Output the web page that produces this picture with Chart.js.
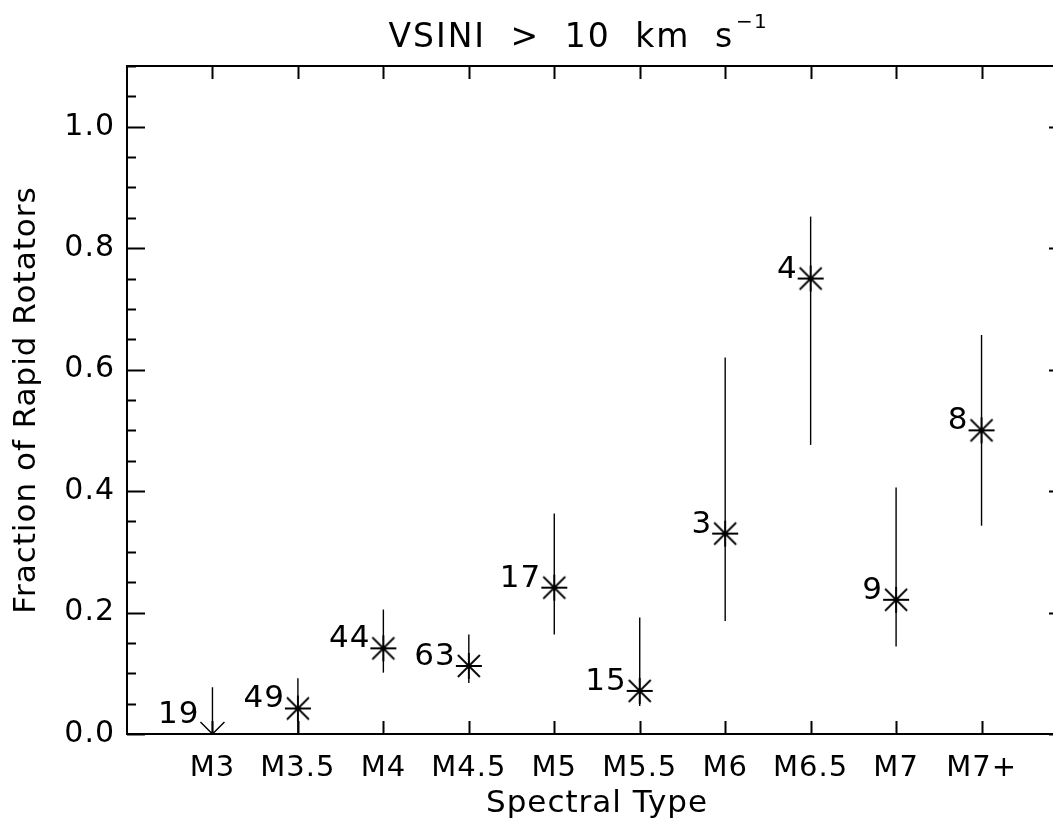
<!DOCTYPE html>
<html>
<head>
<meta charset="utf-8">
<title>Fraction of Rapid Rotators</title>
<script src="https://cdn.jsdelivr.net/npm/chart.js@4.4.1/dist/chart.umd.min.js"></script>
<style>
  html, body { margin: 0; padding: 0; background: #fff; overflow: hidden; }
  #wrap { width: 1067px; height: 825px; }
</style>
</head>
<body>
<div id="wrap"><canvas id="myChart" width="1067" height="825"></canvas></div>
<script>
// spectral type bins
const categories = ["M3", "M3.5", "M4", "M4.5", "M5", "M5.5", "M6", "M6.5", "M7", "M7+"];
// fraction with vsini > 10 km/s and its error range
const fraction = [0.0, 0.042, 0.141, 0.112, 0.241, 0.071, 0.33, 0.75, 0.221, 0.5];
const errLow = [0.0, 0.0, 0.101, 0.084, 0.164, 0.046, 0.186, 0.476, 0.144, 0.343];
const errHigh = [0.077, 0.092, 0.205, 0.164, 0.363, 0.192, 0.62, 0.852, 0.406, 0.657];
const upperLimit = [true, false, false, false, false, false, false, false, false, false];
// number of stars in each bin
const counts = [19, 49, 44, 63, 17, 15, 3, 4, 9, 8];
const yTicks = [0.0, 0.2, 0.4, 0.6, 0.8, 1.0];

const titleMain = "VSINI > 10 km s";
const titleSup = "\u22121";
const fontName = '"DejaVu Sans", sans-serif';

// asterisk marker drawn once on a small canvas
function makeAsterisk() {
  var c = document.createElement("canvas");
  c.width = 30;
  c.height = 30;
  var g = c.getContext("2d");
  g.strokeStyle = "#000";
  g.lineWidth = 1.8;
  g.beginPath();
  g.moveTo(2, 15); g.lineTo(28, 15);
  g.moveTo(15, 2); g.lineTo(15, 28);
  g.moveTo(4, 4); g.lineTo(26, 26);
  g.moveTo(4, 26); g.lineTo(26, 4);
  g.stroke();
  return c;
}

var points = [];
for (var i = 0; i < categories.length; i++) {
  points.push({ x: i, y: upperLimit[i] ? null : fraction[i] });
}

const idlPlugin = {
  id: "idlLook",
  beforeLayout(chart) {
    chart.ctx.letterSpacing = "1px";
  },
  beforeDraw(chart) {
    chart.ctx.letterSpacing = "1px";
  },
  beforeDatasetsDraw(chart) {
    // error bars and the upper limit arrow
    const ctx = chart.ctx;
    const xs = chart.scales.x, ys = chart.scales.y;
    ctx.save();
    ctx.strokeStyle = "#000";
    ctx.lineWidth = 1.4;
    for (var i = 0; i < categories.length; i++) {
      var px = xs.getPixelForValue(i);
      ctx.beginPath();
      if (upperLimit[i]) {
        var tip = ys.getPixelForValue(fraction[i]);
        ctx.moveTo(px, ys.getPixelForValue(errHigh[i]));
        ctx.lineTo(px, tip);
        ctx.moveTo(px - 12, tip - 12);
        ctx.lineTo(px, tip);
        ctx.lineTo(px + 12, tip - 12);
      } else {
        ctx.moveTo(px, ys.getPixelForValue(errLow[i]));
        ctx.lineTo(px, ys.getPixelForValue(errHigh[i]));
      }
      ctx.stroke();
    }
    ctx.restore();
  },
  afterDraw(chart) {
    const ctx = chart.ctx;
    const area = chart.chartArea;
    const xs = chart.scales.x, ys = chart.scales.y;
    ctx.save();
    ctx.strokeStyle = "#000";
    ctx.fillStyle = "#000";

    // box round the plot
    ctx.lineWidth = 2;
    ctx.strokeRect(area.left, area.top, area.right - area.left, area.bottom - area.top);

    // inward tick marks
    ctx.beginPath();
    for (var i = 0; i < categories.length; i++) {
      var px = Math.round(xs.getPixelForValue(i)) + 0.5;
      ctx.moveTo(px, area.bottom); ctx.lineTo(px, area.bottom - 13);
      ctx.moveTo(px, area.top); ctx.lineTo(px, area.top + 13);
    }
    for (var k = 0; k <= 22; k++) {
      var v = k * 0.05;
      var py = Math.round(ys.getPixelForValue(v)) + 0.5;
      var len = (k % 4 === 0) ? 18 : 9;
      ctx.moveTo(area.left, py); ctx.lineTo(area.left + len, py);
      ctx.moveTo(area.right, py); ctx.lineTo(area.right - len, py);
    }
    ctx.stroke();

    // star counts next to each point
    ctx.font = "31px " + fontName;
    ctx.textAlign = "right";
    ctx.textBaseline = "alphabetic";
    for (var j = 0; j < categories.length; j++) {
      var lx = xs.getPixelForValue(j) - 13;
      var ly = ys.getPixelForValue(fraction[j]) - (upperLimit[j] ? 11 : 1);
      ctx.fillText(String(counts[j]), lx, ly);
    }

    // title with superscript
    ctx.textAlign = "left";
    ctx.letterSpacing = "2px";
    ctx.wordSpacing = "12px";
    ctx.font = "33px " + fontName;
    var w1 = ctx.measureText(titleMain).width;
    ctx.font = "20px " + fontName;
    ctx.letterSpacing = "1px";
    ctx.wordSpacing = "0px";
    var w2 = ctx.measureText(titleSup).width;
    var x0 = (area.left + area.right) / 2 - 20 - (w1 + w2) / 2;
    var base = area.top - 19;
    ctx.letterSpacing = "2px";
    ctx.wordSpacing = "12px";
    ctx.font = "33px " + fontName;
    ctx.fillText(titleMain, x0, base);
    ctx.letterSpacing = "1px";
    ctx.wordSpacing = "0px";
    ctx.font = "20px " + fontName;
    ctx.fillText(titleSup, x0 + w1 + 2, base - 19);
    ctx.restore();
  }
};

var ctx = document.getElementById("myChart").getContext("2d");
var chart = new Chart(ctx, {
  type: "scatter",
  data: {
    datasets: [
      {
        label: "fraction",
        data: points,
        pointStyle: makeAsterisk(),
        pointRadius: 13,
        showLine: false,
      },
    ],
  },
  options: {
    responsive: false,
    animation: false,
    layout: { autoPadding: false, padding: { top: 66, right: 0, bottom: 0, left: 0 } },
    plugins: {
      legend: { display: false },
      tooltip: { enabled: false },
      title: { display: false },
    },
    scales: {
      x: {
        type: "linear",
        min: -1,
        max: 10,
        afterBuildTicks: function (s) {
          s.ticks = categories.map(function (c, i) { return { value: i }; });
        },
        afterFit: function (s) {
          s.height = 91;
          s.paddingLeft = 0;
          s.paddingRight = 0;
        },
        grid: { display: false, drawTicks: false },
        border: { display: false },
        ticks: {
          autoSkip: false,
          maxRotation: 0,
          padding: 17,
          color: "#000",
          font: { family: fontName, size: 29 },
          callback: function (v) { return categories[v]; },
        },
        title: {
          display: true,
          text: "Spectral Type",
          color: "#000",
          font: { family: fontName, size: 31 },
          padding: { top: 0, bottom: 2 },
        },
      },
      y: {
        type: "linear",
        min: 0,
        max: 1.1,
        afterBuildTicks: function (s) {
          s.ticks = yTicks.map(function (v) { return { value: v }; });
        },
        afterFit: function (s) {
          s.width = 127;
          s.paddingTop = 0;
          s.paddingBottom = 0;
        },
        grid: { display: false, drawTicks: false },
        border: { display: false },
        ticks: {
          padding: 12,
          color: "#000",
          font: { family: fontName, size: 30 },
          callback: function (v) { return Number(v).toFixed(1); },
        },
        title: {
          display: true,
          text: "Fraction of Rapid Rotators",
          color: "#000",
          font: { family: fontName, size: 31 },
          padding: { top: 8, bottom: 0 },
        },
      },
    },
  },
  plugins: [idlPlugin],
});
</script>
</body>
</html>
